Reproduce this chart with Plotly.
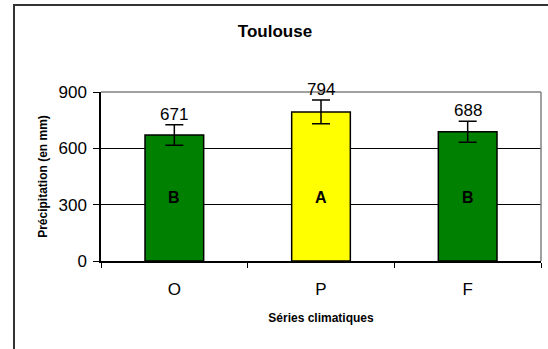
import plotly.graph_objects as go

categories = ["O", "P", "F"]
values = [671, 794, 688]
errors = [55, 63, 56]
colors = ["#008000", "#FFFF00", "#008000"]
groups = ["B", "A", "B"]
y_ticks = [0, 300, 600, 900]
title_text = "Toulouse"
y_title = "Précipitation (en mm)"
x_title = "Séries climatiques"
letter_y = 340

FONT = "Liberation Sans, Arial, sans-serif"

fig = go.Figure()
fig.add_trace(go.Bar(
    x=categories, y=values, width=0.4,
    marker=dict(color=colors, line=dict(color="black", width=1.5)),
    error_y=dict(type="data", array=errors, visible=True, color="black", thickness=1.5, width=9),
    hoverinfo="skip",
))

annotations = []
for c, v, e in zip(categories, values, errors):
    annotations.append(dict(x=c, y=v + e, text=str(v), showarrow=False, yanchor="bottom",
                            font=dict(family=FONT, size=17, color="black"), yshift=-1))
for c, g in zip(categories, groups):
    annotations.append(dict(x=c, y=letter_y, text="<b>%s</b>" % g, showarrow=False,
                            font=dict(family=FONT, size=16, color="black")))

shapes = [
    # outer frame (only top/left visible)
    dict(type="rect", xref="paper", yref="paper", x0=-87/440, x1=1.2, y0=-1.5, y1=(261-5)/169,
         line=dict(color="#333333", width=2), layer="below"),
    # plot area border top/right in grey
    dict(type="line", xref="paper", yref="paper", x0=0, x1=1, y0=1, y1=1,
         line=dict(color="#808080", width=1.5), layer="above"),
    dict(type="line", xref="paper", yref="paper", x0=1, x1=1, y0=0, y1=1,
         line=dict(color="#808080", width=1.5), layer="above"),
]

fig.update_layout(
    width=548, height=349,
    margin=dict(l=101, r=7, t=92, b=88, autoexpand=False),
    paper_bgcolor="white", plot_bgcolor="white",
    showlegend=False,
    font=dict(family=FONT, color="black"),
    title=dict(text="<b>%s</b>" % title_text, x=(275)/548, xanchor="center", y=1-31/349, yanchor="middle",
               font=dict(family=FONT, size=17, color="black")),
    annotations=annotations,
    shapes=shapes,
    bargap=0.6,
)
fig.update_xaxes(
    showline=True, linecolor="black", linewidth=1.5,
    ticks="outside", tickson="boundaries", ticklen=5, tickcolor="black", tickwidth=1,
    ticklabelstandoff=12,
    tickfont=dict(family=FONT, size=17, color="black"),
    title=dict(text="<b>%s</b>" % x_title, font=dict(family=FONT, size=12, color="black"), standoff=15),
    showgrid=False, zeroline=False,
)
fig.update_yaxes(
    range=[0, 900], tickvals=y_ticks,
    showline=True, linecolor="black", linewidth=1.5,
    ticks="outside", ticklen=6, tickcolor="black", tickwidth=1,
    ticklabelstandoff=3,
    tickfont=dict(family=FONT, size=17, color="black"),
    showgrid=True, gridcolor="black", gridwidth=1, zeroline=False,
    title=dict(text="<b>%s</b>" % y_title, font=dict(family=FONT, size=12, color="black"), standoff=8),
)

fig.write_html("out.html", config={"displayModeBar": False},
               post_script="document.body.style.margin='0';document.body.style.overflow='hidden';")
